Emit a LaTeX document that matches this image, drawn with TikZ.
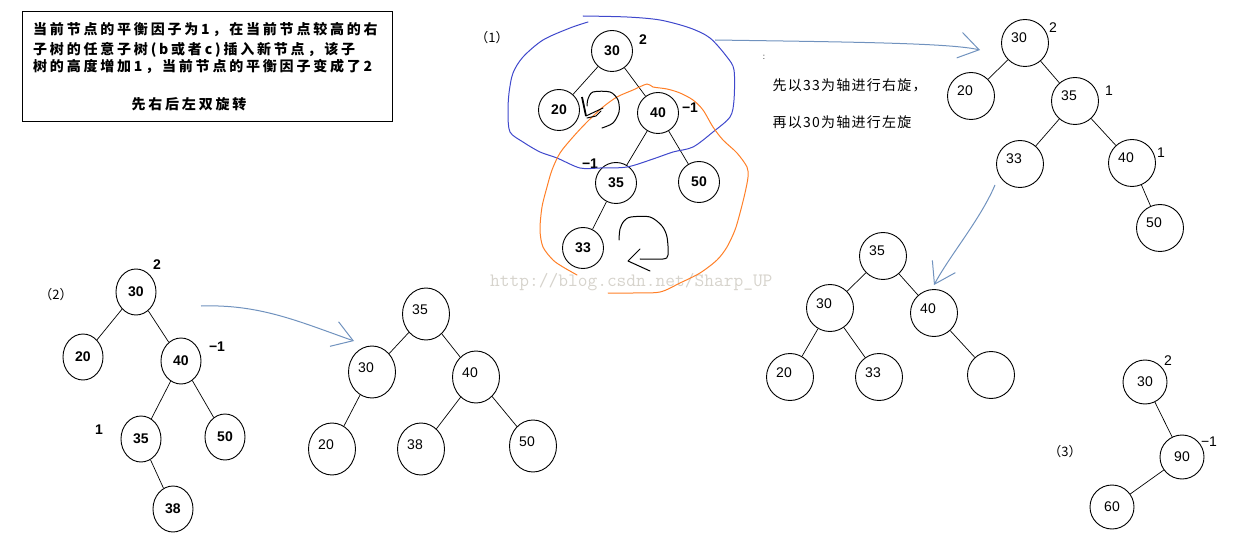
\documentclass[tikz,border=0pt]{standalone}
\usepackage{fontspec}
\setmainfont{Liberation Sans}
\newfontfamily\cjk{Noto Sans CJK SC}
\newfontfamily\cjkbox[LetterSpace=20]{Noto Sans CJK SC}
\newfontfamily\cjknote[LetterSpace=9]{Noto Sans CJK SC}
\usetikzlibrary{arrows.meta,shapes.geometric}
\definecolor{indigo}{RGB}{63,72,204}
\definecolor{bluegray}{RGB}{112,146,190}
\definecolor{paintorange}{RGB}{255,127,39}
\definecolor{wmgray}{RGB}{214,211,204}

\begin{document}
\begin{tikzpicture}[x=1pt,y=-1pt,
  bnode/.style={circle,draw,line width=0.9pt,minimum size=41pt,inner sep=0pt,font=\bfseries\fontsize{14}{14}\selectfont},
  enode/.style={ellipse,draw,line width=0.9pt,minimum width=40pt,minimum height=46pt,inner sep=0pt,font=\bfseries\fontsize{14}{14}\selectfont},
  tnode/.style={circle,draw,line width=0.9pt,minimum size=47pt,inner sep=0pt,font=\fontsize{14}{14}\selectfont,text height=5pt,text depth=5pt,execute at begin node=\hspace*{-12pt}},
  fnode/.style={ellipse,draw,line width=0.9pt,minimum width=47pt,minimum height=52pt,inner sep=0pt,font=\fontsize{14}{14}\selectfont,text height=5pt,text depth=5pt,execute at begin node=\hspace*{-12pt}},
  snode/.style={circle,draw,line width=0.9pt,minimum size=44pt,inner sep=0pt,font=\fontsize{14}{14}\selectfont},
  bfac/.style={font=\bfseries\fontsize{14}{14}\selectfont},
  nfac/.style={font=\fontsize{14}{14}\selectfont},
  tag/.style={font=\cjk\fontsize{13}{13}\selectfont},
  boxtext/.style={anchor=west,inner sep=0pt,font=\cjkbox\bfseries\fontsize{14}{14}\selectfont},
  branch/.style={line width=0.7pt},
  hand/.style={line width=1pt,line cap=round,line join=round},
  arr/.style={bluegray,line width=1pt,-{Straight Barb[length=20pt,width=26pt]}}]
\useasboundingbox (0,0) rectangle (1248,540);% same size as the screenshot
\node[anchor=base west,inner sep=0pt,text=wmgray,font=\ttfamily\fontsize{18.9}{19}\selectfont] (wm) at (490,287) {http://blog.csdn.net/Sharp\_UP};

% note box
\draw[line width=0.9pt] (22,11) rectangle (392,121);
\node[boxtext] (t1) at (33,30) {当前节点的平衡因子为1，在当前节点较高的右};
\node[boxtext] (t2) at (33,50) {子树的任意子树(b或者c)插入新节点，该子};
\node[boxtext] (t3) at (33,66) {树的高度增加1，当前节点的平衡因子变成了2};
\node[boxtext,anchor=center] (t4) at (189,104) {先右后左双旋转};

% (1) before the rotations
\node[tag] (lbl1) at (492,38) {（1）};
\node[bnode] (a30) at (612,51) {30};
\node[bnode] (a20) at (559,110) {20};
\node[bnode] (a40) at (658,113) {40};
\node[bnode] (a35) at (616,183) {35};
\node[bnode] (a50) at (699,182) {50};
\node[bnode] (a33) at (583,248) {33};
\node[bfac] (fa30) at (643,40) {2};
\node[bfac] (fa40) at (690,108) {−1};
\node[bfac] (fa35) at (590,164) {−1};
\draw[branch] (a30) -- (a20) (a30) -- (a40) (a40) -- (a35) (a40) -- (a50) (a35) -- (a33);
\draw[indigo,hand] plot[smooth,tension=0.5] coordinates {(588,22) (570,28) (543,40) (523,57) (513,73) (509,93) (508,113) (510,132) (523,142) (540,152) (557,158) (580,168) (600,168) (627,167) (653,159) (673,152) (693,147) (713,132) (730,117) (734,100) (734,70) (727,57) (710,38) (690,28) (660,20) (627,17) (583,16)};
\draw[paintorange,hand] plot[smooth,tension=0.5] coordinates {(608,293) (633,293) (660,292) (680,283) (700,273) (717,260) (727,247) (735,230) (740,213) (745,193) (748,177) (747,167) (737,153) (723,140) (713,127) (703,110) (693,100) (680,93) (667,89) (653,87) (647,84) (633,90) (617,97) (603,107) (587,122) (573,137) (560,153) (552,170) (547,187) (542,207) (540,230) (543,247) (553,260) (563,267) (577,275)};
\draw[hand] plot[smooth] coordinates {(587,106) (588,99) (593,92) (610,92) (618,100) (619,112) (613,123) (602,128)};
\draw[line width=1.8pt] (582,97) -- (586,116);
\draw[hand] (586,116) -- (603,108) (587,118) -- (596,116) -- (601,111);
\draw[hand] plot[smooth] coordinates {(619,240) (620,229) (624,221) (631,217) (650,217) (662,226) (667,237) (668,255) (663,259) (640,259)};
\draw[hand] (640,249) -- (628,261) -- (650,271);

% first arrow and the two steps
\coordinate (p1s) at (715,40);
\coordinate (p1e) at (980,50);
\draw[arr] (p1s) .. controls (850,42) and (950,43) .. (p1e);
\node[font=\fontsize{8}{8}\selectfont] (colon) at (764,57) {:};
\node[anchor=west,font=\cjknote\fontsize{14}{14}\selectfont] (s1) at (769,85) {先以33为轴进行右旋，};
\node[anchor=west,font=\cjknote\fontsize{14}{14}\selectfont] (s2) at (769,122) {再以30为轴进行左旋};

% after the right rotation
\node[tnode] (b30) at (1025,43) {30};
\node[tnode] (b20) at (971,96) {20};
\node[tnode] (b35) at (1075,101) {35};
\node[tnode] (b33) at (1020,164) {33};
\node[tnode] (b40) at (1132,163) {40};
\node[tnode] (b50) at (1160,228) {50};
\node[nfac] (fb30) at (1053,28) {2};
\node[nfac] (fb35) at (1109,91) {1};
\node[nfac] (fb40) at (1161,153) {1};
\draw[branch] (b30) -- (b20) (b30) -- (b35) (b35) -- (b33) (b35) -- (b40) (b40) -- (b50);

% after the left rotation
\coordinate (p3s) at (995,185);
\coordinate (p3e) at (934,285);
\draw[arr] (p3s) .. controls (980,220) and (950,255) .. (p3e);
\node[tnode] (c35) at (883,256) {35};
\node[tnode] (c30) at (830,308) {30};
\node[tnode] (c40) at (934,313) {40};
\node[tnode] (c20) at (790,377) {20};
\node[tnode] (c33) at (879,377) {33};
\node[tnode] (cE) at (991,375) {};
\draw[branch] (c35) -- (c30) (c35) -- (c40) (c30) -- (c20) (c30) -- (c33) (c40) -- (cE);

% (2)
\node[tag] (lbl2) at (56,295) {（2）};
\node[enode] (e30) at (136,292) {30};
\node[enode] (e20) at (83,357) {20};
\node[enode] (e40) at (181,361) {40};
\node[enode] (e35) at (141,439) {35};
\node[enode] (e50) at (225,437) {50};
\node[enode] (e38) at (173,509) {38};
\node[bfac] (fe30) at (157,265) {2};
\node[bfac] (fe40) at (217,347) {−1};
\node[bfac] (fe35) at (99,430) {1};
\draw[branch] (e30) -- (e20) (e30) -- (e40) (e40) -- (e35) (e40) -- (e50) (e35) -- (e38);
\coordinate (p2s) at (201,306);
\coordinate (p2e) at (354,341);
\draw[arr] (p2s) .. controls (260,304) and (300,322) .. (p2e);
\node[fnode] (f35) at (426,314) {35};
\node[fnode] (f30) at (372,372) {30};
\node[fnode] (f40) at (476,377) {40};
\node[fnode] (f20) at (332,449) {20};
\node[fnode] (f38) at (421,449) {38};
\node[fnode] (f50) at (533,446) {50};
\draw[branch] (f35) -- (f30) (f35) -- (f40) (f30) -- (f20) (f40) -- (f38) (f40) -- (f50);

% (3)
\node[tag] (lbl3) at (1065,452) {（3）};
\node[snode] (d30) at (1145,382) {30};
\node[snode] (d90) at (1182,457) {90};
\node[snode] (d60) at (1112,507) {60};
\node[nfac] (fd30) at (1168,361) {2};
\node[nfac] (fd90) at (1209,442) {−1};
\draw[branch] (d30) -- (d90) (d90) -- (d60);
\end{tikzpicture}
\end{document}
